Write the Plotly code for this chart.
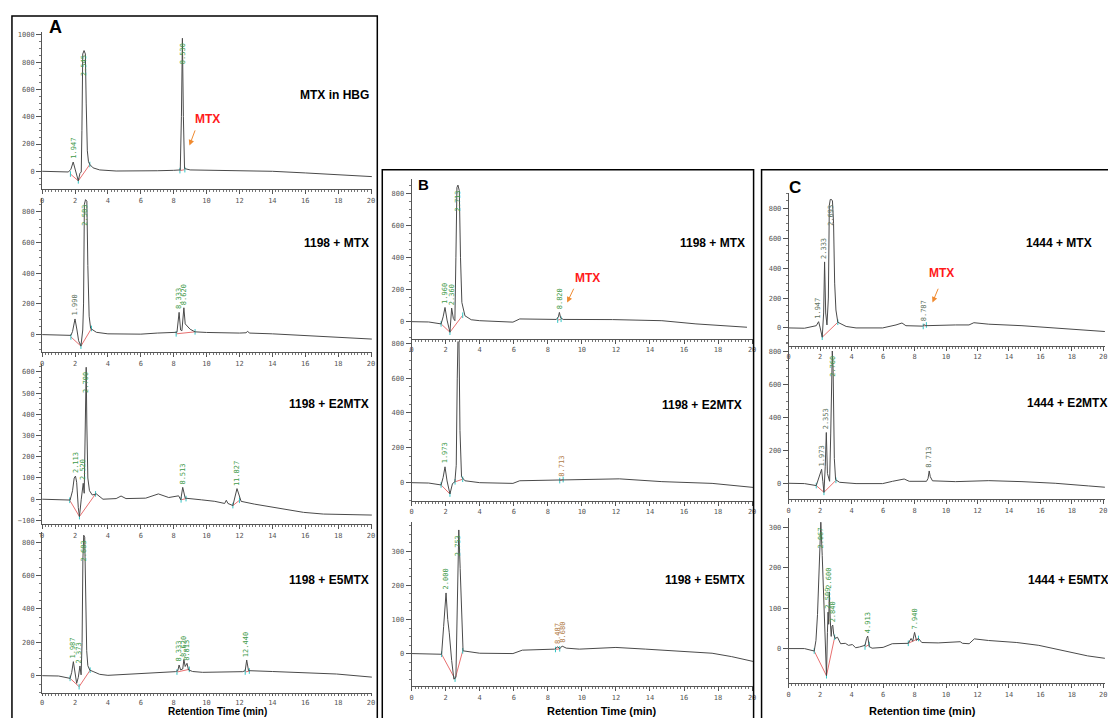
import plotly.graph_objects as go

W, H = 1108, 718

# ---------------- chromatogram data (time in min, signal in mAU) ----------------
A1_t = [0, 1.0, 1.6, 1.75, 1.89, 2.02, 2.2, 2.3, 2.38, 2.42, 2.47, 2.55, 2.63, 2.68, 2.75, 2.82, 2.9, 3.1, 3.5, 4.5, 6.0, 7.0, 8.0, 8.40, 8.47, 8.53, 8.59, 8.66, 9.0, 10.0, 11.7, 13.0, 14.0, 16.0, 18.0, 20.2]
A1_v = [0, -2, -5, 15, 68, 10, -70, -15, -5, 300, 860, 885, 860, 500, 150, 70, 50, 25, 10, 2, 0, 4, 7, 10, 400, 975, 400, 20, 10, 8, 10, 5, 0, -12, -25, -40]

A2_t = [0, 1.0, 1.75, 1.85, 2.0, 2.12, 2.22, 2.36, 2.42, 2.47, 2.52, 2.57, 2.64, 2.72, 2.78, 2.86, 2.95, 3.3, 4.0, 5.0, 6.0, 7.0, 8.0, 8.2, 8.33, 8.42, 8.5, 8.62, 8.7, 8.8, 9.0, 9.3, 10.0, 12.0, 12.4, 12.5, 12.6, 14.0, 16.0, 18.0, 20.2]
A2_v = [0, -2, -5, 20, 102, 30, -40, -75, 10, 30, 200, 850, 880, 870, 450, 120, 40, 15, 5, 2, 3, 10, 12, 15, 145, 30, 25, 175, 70, 60, 35, 18, 14, 10, 12, 22, 10, 5, -5, -15, -30]

A3_t = [0, 1.0, 1.7, 1.85, 1.95, 2.03, 2.1, 2.2, 2.27, 2.38, 2.5, 2.56, 2.64, 2.68, 2.72, 2.78, 2.88, 3.05, 3.3, 3.7, 4.5, 4.8, 5.1, 6.3, 7.07, 7.7, 8.3, 8.43, 8.55, 8.7, 9.7, 10.5, 11.1, 11.2, 11.3, 11.6, 11.85, 12.1, 12.9, 13.8, 15.0, 15.9, 17.1, 18.7, 20.2]
A3_v = [0, -2, -4, 40, 100, 109, 80, -40, -82, 0, 75, 28, 350, 622, 350, 100, 40, 20, 25, 0, 3, 15, 3, 5, 25, 8, 16, -3, 56, 5, -3, -10, -20, -5, -20, -30, 50, -10, -23, -35, -49, -62, -70, -72, -75]

A4_t = [0, 1.0, 1.7, 1.8, 1.9, 2.0, 2.1, 2.2, 2.3, 2.37, 2.43, 2.48, 2.53, 2.59, 2.65, 2.71, 2.78, 2.9, 3.1, 3.5, 4.0, 6.1, 8.1, 8.25, 8.33, 8.42, 8.55, 8.62, 8.7, 8.81, 8.9, 9.15, 9.76, 12.2, 12.35, 12.44, 12.55, 14.0, 15.85, 17.9, 20.2]
A4_v = [0, -2, -16, 20, 84, 30, -46, -10, 58, 5, 200, 700, 842, 830, 500, 150, 60, 33, 25, 8, 2, 14, 24, 30, 64, 35, 40, 97, 55, 74, 35, 25, 20, 24, 30, 94, 30, 25, 20, 10, -10]

B1_t = [0, 1.0, 1.73, 1.85, 1.96, 2.08, 2.25, 2.35, 2.45, 2.54, 2.6, 2.66, 2.72, 2.8, 2.87, 2.95, 3.13, 3.5, 4.0, 5.95, 6.35, 7.9, 8.5, 8.62, 8.68, 8.75, 8.9, 11.8, 14.7, 16.7, 19.7]
B1_v = [0, -2, -14, 30, 89, 10, -66, 85, 20, 6, 400, 840, 855, 820, 400, 120, 37, 12, 6, -3, 17, 13, 14, 30, 58, 25, 14, 13, 6, -14, -35]

B2_t = [0, 1.0, 1.73, 1.85, 1.96, 2.08, 2.25, 2.4, 2.54, 2.62, 2.68, 2.72, 2.78, 2.84, 2.93, 3.13, 4.0, 5.95, 6.35, 8.78, 11.8, 12.2, 14.7, 17.65, 20.05]
B2_v = [0, -2, -13, 30, 91, 10, -65, -5, 5, 100, 600, 815, 815, 300, 34, 11, 0, -4, 11, 15, 19, 22, 6, -4, -27]

B3_t = [0, 1.0, 1.76, 1.88, 2.02, 2.12, 2.21, 2.35, 2.48, 2.6, 2.68, 2.77, 2.85, 2.93, 3.02, 4.0, 5.95, 6.5, 7.9, 8.4, 8.59, 8.7, 8.84, 9.08, 9.85, 12.0, 13.75, 15.7, 17.65, 18.8, 20.05]
B3_v = [0, 0, -2, 80, 178, 100, 61, -20, -75, -70, 100, 363, 250, 115, 8, 1, 0, 10, 13, 13, 20, 14, 22, 16, 13, 18, 13, 8, 1, -9, -23]

C1_t = [0, 1.0, 1.75, 1.9, 2.0, 2.13, 2.22, 2.28, 2.35, 2.43, 2.52, 2.58, 2.64, 2.72, 2.78, 2.85, 2.92, 3.0, 3.12, 3.65, 4.28, 5.97, 6.82, 7.2, 7.45, 8.5, 8.61, 8.7, 10.6, 11.46, 11.77, 12.72, 14.83, 16.94, 20.1]
C1_v = [0, -2, 15, 42, 0, -62, 100, 442, 100, 20, 200, 820, 860, 860, 850, 700, 300, 120, 38, 10, 0, 0, 20, 33, 15, 12, 22, 15, 20, 20, 35, 25, 15, 0, -24]

C2_t = [0, 1.0, 1.75, 1.95, 2.09, 2.17, 2.24, 2.32, 2.39, 2.46, 2.6, 2.67, 2.73, 2.77, 2.82, 2.9, 2.98, 3.23, 4.28, 5.97, 6.6, 7.34, 7.66, 8.76, 8.86, 8.93, 9.0, 9.14, 10.6, 12.72, 14.83, 16.94, 19.05, 20.1]
C2_v = [0, -2, -14, 40, 85, 10, -55, 100, 309, 60, 12, 300, 780, 805, 700, 150, 22, 6, -2, -2, 12, 26, 12, 12, 30, 75, 40, 15, 10, 16, 10, 0, -16, -24]

C3_t = [0, 1.0, 1.62, 1.73, 1.83, 1.95, 2.04, 2.13, 2.25, 2.4, 2.46, 2.5, 2.54, 2.58, 2.64, 2.7, 2.75, 2.8, 2.86, 2.95, 3.1, 3.3, 3.6, 3.8, 4.05, 4.25, 4.5, 4.85, 4.95, 5.02, 5.12, 5.3, 6.0, 6.58, 7.6, 7.78, 7.88, 8.0, 8.12, 8.25, 8.46, 9.5, 10.9, 11.05, 11.47, 11.8, 12.7, 14.5, 15.9, 16.9, 17.99, 19.0, 20.1]
C3_v = [0, 0, -6, 20, 84, 230, 312, 230, 84, -67, 40, 90, 60, 140, 70, 30, 55, 58, 35, 25, 28, 12, 13, 8, 10, 2, 4, 8, 25, 31, 5, 1, 3, 12, 13, 25, 18, 40, 20, 25, 15, 14, 17, 13, 12, 24, 20, 15, 8, 0, -10, -18, -24]

# integration baselines (red) drawn under peaks
A1_bt = [1.72, 2.2, 2.9, None, 8.38, 8.68]
A1_bv = [-20, -70, 50, None, 5, 12]
A2_bt = [1.75, 2.36, 3.0, None, 8.15, 9.3]
A2_bv = [-15, -75, 40, None, 5, 18]
A3_bt = [1.68, 2.27, 3.25, None, 8.45, 8.75, None, 11.6, 12.0]
A3_bv = [-5, -82, 25, None, -3, 3, None, -30, -5]
A4_bt = [1.7, 2.25, 2.92, None, 8.2, 8.95, None, 12.35, 12.6]
A4_bv = [-16, -66, 33, None, 22, 38, None, 22, 28]
B1_bt = [1.73, 2.25, 3.0, None, 8.58, 8.78]
B1_bv = [-14, -66, 40, None, 10, 15]
B2_bt = [1.73, 2.25, None, 2.55, 3.0, None, 8.7, 8.9]
B2_bv = [-13, -65, None, 5, 20, None, 12, 18]
B3_bt = [1.76, 2.55, 3.0, None, 8.45, 8.7]
B3_bv = [-2, -75, 8, None, 12, 14]
C1_bt = [2.13, 3.12, None, 8.55, 8.75]
C1_bv = [-62, 38, None, 10, 20]
C2_bt = [1.75, 2.24, 3.0]
C2_bv = [-14, -55, 18]
C3_bt = [1.62, 2.4, 2.92, None, 4.85, 5.12, None, 7.6, 8.25]
C3_bv = [-6, -67, 28, None, 4, 10, None, 13, 25]

# peak retention-time labels
A1_pk_t = [1.89, 2.55, 8.53]
A1_pk_v = [68, 885, 975]
A1_pk_txt = ["1.947", "2.545", "8.530"]
A2_pk_t = [2.0, 2.64, 8.33, 8.62]
A2_pk_v = [102, 880, 145, 175]
A2_pk_txt = ["1.990", "2.583", "8.333", "8.620"]
A3_pk_t = [2.03, 2.5, 2.68, 8.55, 11.85]
A3_pk_v = [109, 75, 622, 56, 50]
A3_pk_txt = ["2.113", "2.520", "2.700", "8.513", "11.827"]
A4_pk_t = [1.9, 2.3, 2.53, 8.33, 8.62, 8.81, 12.44]
A4_pk_v = [84, 58, 842, 64, 97, 74, 94]
A4_pk_txt = ["1.987", "2.373", "2.683", "8.333", "8.620", "8.813", "12.440"]
B1_pk_t = [1.96, 2.35, 2.72, 8.68]
B1_pk_v = [89, 85, 855, 58]
B1_pk_txt = ["1.960", "2.360", "2.713", "8.820"]
B2_pk_t = [1.96, 2.75, 8.78]
B2_pk_v = [91, 815, 15]
B2_pk_txt = ["1.973", "2.713", "8.713"]
B3_pk_t = [2.02, 2.77, 8.59, 8.84]
B3_pk_v = [178, 363, 20, 22]
B3_pk_txt = ["2.000", "2.753", "8.487", "8.680"]
C1_pk_t = [1.9, 2.28, 2.68, 8.61]
C1_pk_v = [42, 442, 860, 22]
C1_pk_txt = ["1.947", "2.333", "2.693", "8.787"]
C2_pk_t = [2.09, 2.39, 2.77, 8.93]
C2_pk_v = [85, 309, 805, 75]
C2_pk_txt = ["1.973", "2.353", "2.760", "8.713"]
C3_pk_t = [2.04, 2.5, 2.58, 2.8, 5.02, 8.0]
C3_pk_v = [312, 90, 140, 58, 31, 40]
C3_pk_txt = ["2.067", "2.509", "2.600", "2.840", "4.913", "7.940"]

sample_names = ["MTX in HBG", "1198 + MTX", "1198 + E2MTX", "1198 + E5MTX",
                "1198 + MTX", "1198 + E2MTX", "1198 + E5MTX",
                "1444 + MTX", "1444 + E2MTX", "1444 + E5MTX"]

# ---------------- styles / layout geometry (pixels) ----------------
GREEN = "#3f9a4a"
GRAYG = "#5e725e"
BROWN = "#b07a45"

# panel x geometry: px of t=0, px per minute, right px
PX = {"A": (40.3, 16.52, 371.5), "B": (411.5, 17.1, 754.5), "C": (790.3, 15.8, 1108)}

subplots = [
    # panel, t, v, bt, bv, pk_t, pk_v, pk_txt, label colors, zero_px, px/unit, bottom_px, top_px, dtick, x ticklen
    ("A", A1_t, A1_v, A1_bt, A1_bv, A1_pk_t, A1_pk_v, A1_pk_txt, [GREEN]*3, 170, 0.137, 188, 30, 200, 4),
    ("A", A2_t, A2_v, A2_bt, A2_bv, A2_pk_t, A2_pk_v, A2_pk_txt, [GRAYG, GREEN, GREEN, GREEN], 334, 0.154, 351.7, 197, 200, 4),
    ("A", A3_t, A3_v, A3_bt, A3_bv, A3_pk_t, A3_pk_v, A3_pk_txt, [GREEN]*5, 499.3, 0.213, 524.3, 364, 100, 4),
    ("A", A4_t, A4_v, A4_bt, A4_bv, A4_pk_t, A4_pk_v, A4_pk_txt, [GREEN]*7, 676.5, 0.1675, 694, 532, 200, 2),
    ("B", B1_t, B1_v, B1_bt, B1_bv, B1_pk_t, B1_pk_v, B1_pk_txt, [GREEN]*4, 321, 0.1604, 338.3, 178, 200, 4),
    ("B", B2_t, B2_v, B2_bt, B2_bv, B2_pk_t, B2_pk_v, B2_pk_txt, [GREEN, GREEN, BROWN], 482.7, 0.175, 501, 341, 200, 4),
    ("B", B3_t, B3_v, B3_bt, B3_bv, B3_pk_t, B3_pk_v, B3_pk_txt, [GREEN, GREEN, BROWN, BROWN], 654.3, 0.342, 687.3, 521.7, 100, 4),
    ("C", C1_t, C1_v, C1_bt, C1_bv, C1_pk_t, C1_pk_v, C1_pk_txt, [GRAYG]*4, 327.3, 0.15, 345, 191.7, 200, 4),
    ("C", C2_t, C2_v, C2_bt, C2_bv, C2_pk_t, C2_pk_v, C2_pk_txt, [GRAYG, GRAYG, GREEN, GRAYG], 483.3, 0.165, 499.3, 343, 200, 4),
    ("C", C3_t, C3_v, C3_bt, C3_bv, C3_pk_t, C3_pk_v, C3_pk_txt, [GREEN]*6, 649.3, 0.4067, 684, 518, 100, 4),
]

# sample-name placement: (x px, anchor, y px)
name_pos = [(371, "right", 93), (371, "right", 242), (371, "right", 404), (371, "right", 580),
            (748, "right", 242), (745, "right", 405), (748, "right", 580),
            (1097, "right", 242), (1028, "left", 403), (1029, "left", 580)]

fig = go.Figure()
TICKFONT = dict(family="DejaVu Sans Mono", size=7, color="#555555")
BOLD = "Liberation Sans, Arial, sans-serif"

def px2x(p):
    return p / W

def px2y(p):
    return 1 - p / H

layout_axes = {}
for i, (pan, t, v, bt, bv, pkt, pkv, pktxt, pkc, zero, yppu, bot, top, dt, xtl) in enumerate(subplots, start=1):
    x0, xppu, xr = PX[pan]
    xname = "x" if i == 1 else f"x{i}"
    yname = "y" if i == 1 else f"y{i}"
    xa = "xaxis" if i == 1 else f"xaxis{i}"
    ya = "yaxis" if i == 1 else f"yaxis{i}"
    ymin = -(bot - zero) / yppu
    ymax = (zero - top) / yppu
    layout_axes[xa] = dict(
        domain=[px2x(x0), px2x(xr)], range=[0, (xr - x0) / xppu], anchor=yname,
        showline=True, linecolor="#555555", linewidth=1, showgrid=False, zeroline=False,
        ticks="outside", ticklen=xtl, tickcolor="#555555", dtick=2, tick0=0,
        tickfont=TICKFONT, minor=dict(ticks="outside", ticklen=2, tickcolor="#777777", dtick=0.2),
    )
    layout_axes[ya] = dict(
        domain=[px2y(bot), px2y(top)], range=[ymin, ymax], anchor=xname,
        showline=True, linecolor="#555555", linewidth=1, showgrid=False, zeroline=False,
        ticks="outside", ticklen=5, tickcolor="#555555", dtick=dt, tick0=0,
        tickfont=TICKFONT, minor=dict(ticks="outside", ticklen=2, tickcolor="#777777", dtick=dt / 4),
    )
    # red integration baselines with cyan end marks
    fig.add_trace(go.Scatter(x=bt, y=bv, xaxis=xname, yaxis=yname, mode="lines+markers",
                             line=dict(color="#e87070", width=1),
                             marker=dict(symbol="line-ns", size=4, line=dict(color="#33c4c4", width=1)),
                             hoverinfo="skip"))
    # chromatogram
    fig.add_trace(go.Scatter(x=t, y=v, xaxis=xname, yaxis=yname, mode="lines",
                             line=dict(color="#4a4a4a", width=1)))
    # peak labels
    for pt, pv, ps, pc in zip(pkt, pkv, pktxt, pkc):
        room = (ymax - pv) * yppu
        if room > 26:
            ya_, ysh = "bottom", 2
        else:
            ya_, ysh = "top", -4
        fig.add_annotation(x=pt, y=pv, xref=xname, yref=yname, text=ps, textangle=-90,
                           showarrow=False, xanchor="center", yanchor=ya_, yshift=ysh,
                           font=dict(family="DejaVu Sans Mono", size=7, color=pc), borderpad=0)
    # sample name
    nx, nanc, ny = name_pos[i - 1]
    fig.add_annotation(x=px2x(nx), y=px2y(ny), xref="paper", yref="paper", text=f"<b>{sample_names[i-1]}</b>",
                       showarrow=False, xanchor=nanc, yanchor="middle",
                       font=dict(family=BOLD, size=12, color="black"))

# MTX call-outs (text + orange arrow)
for (tx, ty, hx, hy, tlx, tly) in [(206, 117, 188.3, 144, 194.5, 127.5),
                                     (588, 277, 567.7, 301.7, 575, 286.5),
                                     (944, 272, 934.7, 301.7, 941, 286.5)]:
    fig.add_annotation(x=px2x(tx), y=px2y(ty), xref="paper", yref="paper", text="<b>MTX</b>",
                       showarrow=False, xanchor="center", yanchor="middle",
                       font=dict(family=BOLD, size=12, color="#ff1a1a"))
    fig.add_annotation(x=px2x(hx), y=px2y(hy), xref="paper", yref="paper", text="",
                       showarrow=True, ax=tlx - hx, ay=tly - hy, arrowhead=2, arrowsize=1.1,
                       arrowwidth=1, arrowcolor="#f08a30")

# panel letters
for (s, x, y, sz) in [("A", 54, 25, 18), ("B", 423, 183, 15), ("C", 797, 186, 17)]:
    fig.add_annotation(x=px2x(x), y=px2y(y), xref="paper", yref="paper", text=f"<b>{s}</b>",
                       showarrow=False, xanchor="center", yanchor="middle",
                       font=dict(family=BOLD, size=sz, color="black"))

# x-axis titles
for (s, x, y, sz) in [("Retention Time (min)", 216, 712.3, 10), ("Retention Time (min)", 603, 712, 11),
                      ("Retention time (min)", 925, 712, 11)]:
    fig.add_annotation(x=px2x(x), y=px2y(y), xref="paper", yref="paper", text=f"<b>{s}</b>",
                       showarrow=False, xanchor="center", yanchor="middle", borderpad=0,
                       font=dict(family=BOLD, size=sz, color="black"))

# panel frames
shapes = []
for (x0, y0, x1, y1) in [(10, 14, 377, 725), (382, 168.5, 755, 725), (763, 168.5, 1115, 725)]:
    shapes.append(dict(type="rect", xref="paper", yref="paper",
                       x0=px2x(x0), x1=px2x(x1), y0=px2y(y1), y1=px2y(y0),
                       line=dict(color="black", width=1.5), fillcolor="rgba(0,0,0,0)"))

fig.update_layout(width=W, height=H, margin=dict(l=0, r=0, t=0, b=0),
                  paper_bgcolor="white", plot_bgcolor="rgba(0,0,0,0)",
                  showlegend=False, shapes=shapes, **layout_axes)

fig.write_html("out.html")
